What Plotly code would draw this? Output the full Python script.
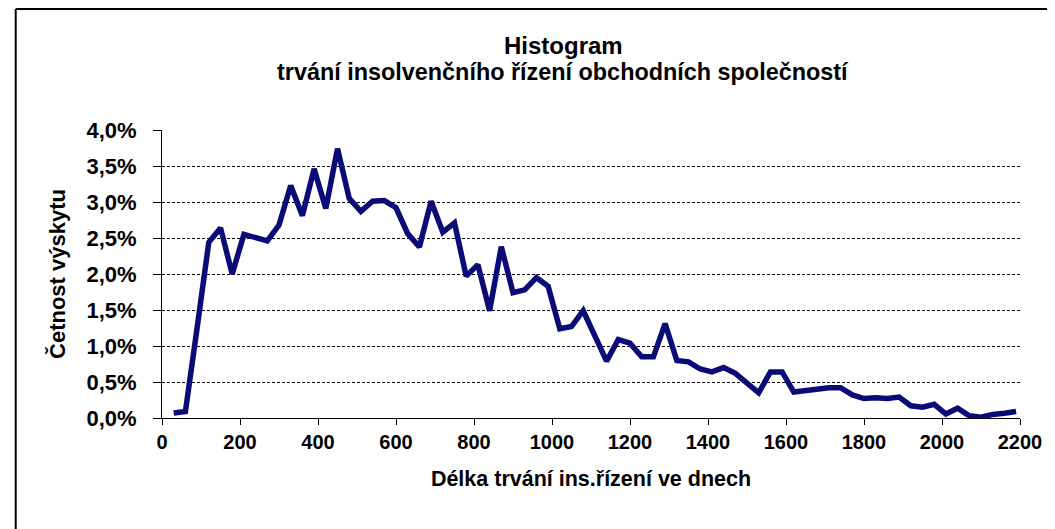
import plotly.graph_objects as go

# Data (days, share in %)
days = [30, 60, 90, 120, 150, 180, 210, 240, 270, 300, 330, 360, 390, 420, 450, 480,
        510, 540, 570, 600, 630, 660, 690, 720, 750, 780, 810, 840, 870, 900, 930, 960,
        990, 1020, 1050, 1080, 1110, 1140, 1170, 1200, 1230, 1260, 1290, 1320, 1350,
        1380, 1410, 1440, 1470, 1500, 1530, 1560, 1590, 1620, 1650, 1680, 1710, 1740,
        1770, 1800, 1830, 1860, 1890, 1920, 1950, 1980, 2010, 2040, 2070, 2100, 2130,
        2160, 2190]
share_pct = [0.07, 0.09, 1.25, 2.44, 2.64, 2.00, 2.55, 2.50, 2.46, 2.68, 3.23, 2.81,
             3.46, 2.91, 3.74, 3.05, 2.87, 3.01, 3.02, 2.92, 2.56, 2.375, 3.01, 2.58,
             2.71, 1.97, 2.13, 1.49, 2.38, 1.74, 1.78, 1.95, 1.83, 1.24, 1.27, 1.49,
             1.12, 0.79, 1.09, 1.04, 0.85, 0.85, 1.31, 0.80, 0.78, 0.68, 0.64, 0.70,
             0.62, 0.49, 0.35, 0.64, 0.64, 0.36, 0.38, 0.41, 0.42, 0.42, 0.32, 0.27,
             0.28, 0.27, 0.29, 0.17, 0.15, 0.19, 0.055, 0.135, 0.03, 0.01, 0.05, 0.065,
             0.09]

x_ticks = [0, 200, 400, 600, 800, 1000, 1200, 1400, 1600, 1800, 2000, 2200]
y_ticks = [0.0, 0.5, 1.0, 1.5, 2.0, 2.5, 3.0, 3.5, 4.0]
y_tick_labels = ["0,0%", "0,5%", "1,0%", "1,5%", "2,0%", "2,5%", "3,0%", "3,5%", "4,0%"]

title_line1 = "Histogram"
title_line2 = "trvání insolvenčního řízení obchodních společností"
x_title = "Délka trvání ins.řízení ve dnech"
y_title = "Četnost výskytu"

FONT = "Liberation Sans, Arial, sans-serif"

fig = go.Figure()
fig.add_trace(go.Scatter(
    x=days, y=share_pct, mode="lines",
    line=dict(color="#0b0b78", width=5.5),
    hoverinfo="x+y", showlegend=False,
))

fig.update_layout(
    width=1055, height=529,
    margin=dict(l=154, r=43, t=122, b=119),
    paper_bgcolor="white", plot_bgcolor="white",
    font=dict(family=FONT, color="black"),
    xaxis=dict(
        range=[0, 2200], tickvals=x_ticks, ticks="outside", ticklen=6,
        tickcolor="black", showline=True, linecolor="black", linewidth=1,
        showgrid=False, zeroline=False,
        tickfont=dict(size=20, family=FONT, color="black", weight="bold"),
        ticklabelstandoff=0,
        title=dict(text="<b>" + x_title + "</b>",
                   font=dict(size=21.5, family=FONT, color="black"), standoff=18),
    ),
    yaxis=dict(
        range=[0, 4.0], tickvals=y_ticks, ticktext=y_tick_labels, ticks="outside",
        ticklen=8, tickcolor="black", showline=True, linecolor="black", linewidth=1,
        showgrid=True, gridcolor="black", gridwidth=1, griddash="3px,2px",
        zeroline=False,
        tickfont=dict(size=22, family=FONT, color="black", weight="bold"),
        ticklabelstandoff=12,
        title=dict(text="<b>" + y_title + "</b>",
                   font=dict(size=22, family=FONT, color="black"), standoff=14),
    ),
)

# Two-line chart title
fig.add_annotation(text="<b>" + title_line1 + "</b>", xref="paper", yref="paper",
                   x=0.4674, y=1.2917, xanchor="center", yanchor="middle",
                   showarrow=False, font=dict(size=24, family=FONT, color="black"))
fig.add_annotation(text="<b>" + title_line2 + "</b>", xref="paper", yref="paper",
                   x=0.4674, y=1.2014, xanchor="center", yanchor="middle",
                   showarrow=False, font=dict(size=23.4, family=FONT, color="black"))

# Outer chart frame (left and top edges visible in the reference)
fx = -0.1705
fy = 1.420
fig.add_shape(type="line", xref="paper", yref="paper", x0=fx, x1=fx, y0=-0.5, y1=fy,
              line=dict(color="black", width=2))
fig.add_shape(type="line", xref="paper", yref="paper", x0=fx, x1=1.1, y0=fy, y1=fy,
              line=dict(color="black", width=2))

fig.write_html("out.html")
